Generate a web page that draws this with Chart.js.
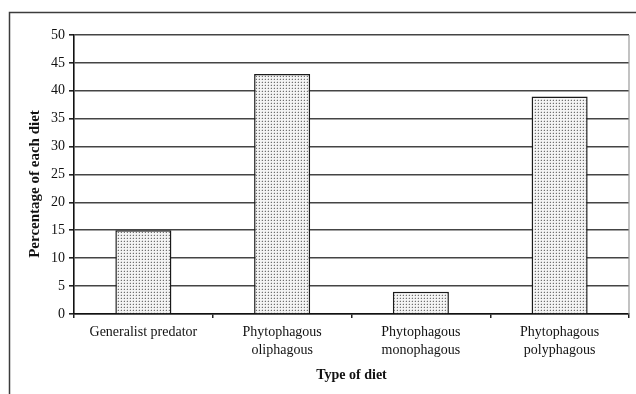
<!DOCTYPE html>
<html>
<head>
<meta charset="utf-8">
<script src="https://cdn.jsdelivr.net/npm/chart.js@4/dist/chart.umd.min.js"></script>
<style>
  html, body { margin: 0; padding: 0; background: #fff; }
  #wrap { width: 636px; height: 394px; }
</style>
</head>
<body>
<div id="wrap"><canvas id="c" width="636" height="394"></canvas></div>
<script>
// Diet categories and the share of species in each
const categories = [
  "Generalist predator",
  ["Phytophagous", "oliphagous"],
  ["Phytophagous", "monophagous"],
  ["Phytophagous", "polyphagous"]
];
const percentages = [15, 43, 4, 39];
const yTicks = [0, 5, 10, 15, 20, 25, 30, 35, 40, 45, 50];
const xTitle = "Type of diet";
const yTitle = "Percentage of each diet";

const SERIF = "'Liberation Serif', 'Times New Roman', serif";

// Stippled fill for the bars
function dotPattern() {
  const t = document.createElement('canvas');
  t.width = 3; t.height = 3;
  const g = t.getContext('2d');
  g.fillStyle = '#f4f4f4';
  g.fillRect(0, 0, 3, 3);
  g.fillStyle = '#d6d6d6';
  g.fillRect(1, 0, 1, 1);
  g.fillRect(0, 1, 1, 1);
  g.fillStyle = '#707070';
  g.fillRect(1, 1, 1, 1);
  return document.getElementById('c').getContext('2d').createPattern(t, 'repeat');
}

// Outer frame, plot-area right edge and the axis titles
const decorations = {
  id: 'decorations',
  beforeDraw(chart) {
    const ctx = chart.ctx;
    ctx.save();
    ctx.strokeStyle = '#3c3c3c';
    ctx.lineWidth = 1.5;
    ctx.strokeRect(9.5, 12.5, 700, 500);
    ctx.restore();
  },
  afterDraw(chart) {
    const ctx = chart.ctx;
    const a = chart.chartArea;
    ctx.save();
    ctx.strokeStyle = '#9a9a9a';
    ctx.lineWidth = 1.2;
    ctx.beginPath();
    ctx.moveTo(a.right, a.top);
    ctx.lineTo(a.right, a.bottom);
    ctx.stroke();

    ctx.fillStyle = '#111';
    ctx.textAlign = 'center';
    ctx.textBaseline = 'middle';
    ctx.font = "bold 14px " + SERIF;
    ctx.fillText(xTitle, (a.left + a.right) / 2, 375);

    ctx.font = "bold 15px " + SERIF;
    ctx.translate(35, 184);
    ctx.rotate(-Math.PI / 2);
    ctx.fillText(yTitle, 0, 0);
    ctx.restore();
  }
};

new Chart(document.getElementById('c'), {
  type: 'bar',
  data: {
    labels: categories,
    datasets: [{
      data: percentages,
      backgroundColor: dotPattern(),
      borderColor: '#1a1a1a',
      borderWidth: 1.5,
      categoryPercentage: 1.0,
      barPercentage: 0.404
    }]
  },
  options: {
    responsive: false,
    devicePixelRatio: 1,
    animation: false,
    layout: { padding: { left: 0, top: 35, right: 7, bottom: 0 } },
    plugins: {
      legend: { display: false },
      tooltip: { enabled: false },
      title: { display: false }
    },
    scales: {
      x: {
        offset: true,
        grid: {
          display: true,
          offset: true,
          drawOnChartArea: false,
          drawTicks: true,
          tickLength: 4,
          color: '#222',
          tickColor: '#222',
          lineWidth: 1.5
        },
        border: { display: true, color: '#111', width: 1.5 },
        ticks: {
          color: '#111',
          padding: 6,
          maxRotation: 0,
          autoSkip: false,
          font: { family: SERIF, size: 14, lineHeight: 1.25 }
        },
        afterFit(scale) { scale.height = 80; }
      },
      y: {
        min: 0,
        max: 50,
        afterBuildTicks(scale) {
          scale.ticks = yTicks.map(v => ({ value: v }));
        },
        grid: {
          color: '#444',
          lineWidth: 1.6,
          tickLength: 5,
          tickColor: '#222',
          drawTicks: true
        },
        border: { display: true, color: '#111', width: 1.6 },
        ticks: {
          color: '#111',
          padding: 4,
          font: { family: SERIF, size: 14 }
        },
        afterFit(scale) { scale.width = 74; }
      }
    }
  },
  plugins: [decorations]
});
</script>
</body>
</html>
